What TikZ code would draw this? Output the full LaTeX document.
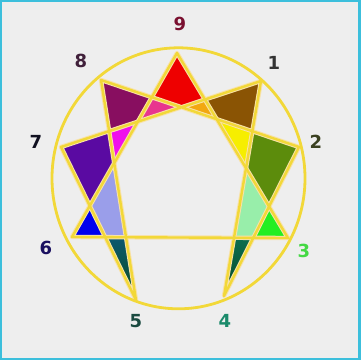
\documentclass[tikz,border=0pt]{standalone}
\usepackage{fontspec}
\setmainfont{DejaVu Sans}
\usetikzlibrary{calc}
\begin{document}
\begin{tikzpicture}[x=1pt,y=-1pt,
  halo/.style={draw=halocol, line width=4.4pt, line cap=round, line join=round},
  yline/.style={draw=ylw, line width=2.4pt, line cap=round, line join=round},
  lbl/.style={font=\bfseries\fontsize{18}{18}\selectfont, inner sep=0pt}]
\definecolor{cyanb}{HTML}{3CBFDC}
\definecolor{bg}{HTML}{EEEEEE}
\definecolor{ylw}{HTML}{F2D838}
\definecolor{halocol}{HTML}{F8E2A8}
\definecolor{cred}{HTML}{EE0000}
\definecolor{cpink}{HTML}{E8358E}
\definecolor{cpurple}{HTML}{880E60}
\definecolor{cmag}{HTML}{F010EC}
\definecolor{cindigo}{HTML}{5A0AA2}
\definecolor{cblue}{HTML}{0000EE}
\definecolor{clav}{HTML}{9A9EEA}
\definecolor{corange}{HTML}{F2A810}
\definecolor{cbrown}{HTML}{8A5404}
\definecolor{cyel}{HTML}{F6EE00}
\definecolor{colive}{HTML}{5C8C0C}
\definecolor{cmint}{HTML}{98EEAA}
\definecolor{cgreen}{HTML}{22EE22}
\definecolor{l9}{HTML}{7A1030}
\definecolor{l8}{HTML}{40203A}
\definecolor{l1}{HTML}{333333}
\definecolor{l7}{HTML}{101020}
\definecolor{l2}{HTML}{3A4020}
\definecolor{l6}{HTML}{1A1060}
\definecolor{l3}{HTML}{44D844}
\definecolor{l5}{HTML}{1A4A40}
\definecolor{l4}{HTML}{1A8A6A}
% background and border
\fill[cyanb] (0,0) rectangle (361,360);
\fill[bg] (2,2) rectangle (358,357.5);
\useasboundingbox (0,0) rectangle (361,360);
% star points
\coordinate (p9) at (177,53);
\coordinate (p1) at (261,81);
\coordinate (p2) at (299,147);
\coordinate (p3) at (288,238);
\coordinate (p4) at (224,296);
\coordinate (p5) at (136,300);
\coordinate (p6) at (72,237);
\coordinate (p7) at (61,147);
\coordinate (p8) at (101,80);
% intersections
\coordinate (a1) at (intersection of p9--p6 and p2--p8);
\coordinate (a2) at (intersection of p2--p8 and p1--p7);
\coordinate (a3) at (intersection of p9--p3 and p1--p7);
\coordinate (a4) at (intersection of p9--p6 and p1--p7);
\coordinate (a5) at (intersection of p8--p5 and p1--p7);
\coordinate (a6) at (intersection of p9--p6 and p8--p5);
\coordinate (a7) at (intersection of p9--p6 and p5--p7);
\coordinate (a8) at (intersection of p5--p7 and p6--p3);
\coordinate (a9) at (intersection of p8--p5 and p6--p3);
\coordinate (b1) at (intersection of p9--p3 and p2--p8);
\coordinate (b2) at (intersection of p1--p4 and p2--p8);
\coordinate (b3) at (intersection of p9--p3 and p1--p4);
\coordinate (b4) at (intersection of p9--p3 and p4--p2);
\coordinate (b5) at (intersection of p4--p2 and p6--p3);
\coordinate (b6) at (intersection of p1--p4 and p6--p3);
% cells
\fill[cred] (p9) -- (a1) -- (a2) -- (a3) -- cycle;
\fill[cpink] (a1) -- (a2) -- (a4) -- cycle;
\fill[cpurple] (p8) -- (a1) -- (a4) -- (a5) -- cycle;
\fill[cmag] (a5) -- (a4) -- (a6) -- cycle;
\fill[cindigo] (p7) -- (a5) -- (a6) -- (a7) -- cycle;
\fill[cblue] (a7) -- (p6) -- (a8) -- cycle;
\fill[clav] (a6) -- (a7) -- (a8) -- (a9) -- cycle;
\shade[top color={rgb,255:red,12;green,88;blue,112}, bottom color={rgb,255:red,10;green,80;blue,48}]
  (a8) -- (a9) -- ($(a9)!0.78!(p5)$) -- ($(a8)!0.78!(p5)$) -- cycle;
\fill[corange] (a2) -- (a3) -- (b1) -- cycle;
\fill[cbrown] (p1) -- (a3) -- (b1) -- (b2) -- cycle;
\fill[cyel] (b1) -- (b2) -- (b3) -- cycle;
\fill[colive] (b2) -- (p2) -- (b4) -- (b3) -- cycle;
\fill[cmint] (b3) -- (b4) -- (b5) -- (b6) -- cycle;
\fill[cgreen] (b4) -- (p3) -- (b5) -- cycle;
\shade[top color={rgb,255:red,10;green,110;blue,80}, bottom color={rgb,255:red,8;green,80;blue,48}]
  (b6) -- (b5) -- ($(b5)!0.78!(p4)$) -- ($(b6)!0.78!(p4)$) -- cycle;
% lines
\foreach \s in {halo,yline}{
  \draw[\s] (p9) -- (p6) -- (p3) -- cycle;
  \draw[\s] (p1) -- (p4) -- (p2) -- (p8) -- (p5) -- (p7) -- cycle;
}
\draw[draw=ylw, line width=2.8pt] (178.5,178.3) ellipse [x radius=126.5, y radius=130.5];
% labels
\node[lbl, text=l9] (n9) at (180,24) {9};
\node[lbl, text=l8] (n8) at (81,61) {8};
\node[lbl, text=l1] (n1) at (274,63) {1};
\node[lbl, text=l7] (n7) at (36,142) {7};
\node[lbl, text=l2] (n2) at (316,142) {2};
\node[lbl, text=l6] (n6) at (46,248) {6};
\node[lbl, text=l3] (n3) at (304,251) {3};
\node[lbl, text=l5] (n5) at (136,321) {5};
\node[lbl, text=l4] (n4) at (225,321) {4};
\end{tikzpicture}
\end{document}
